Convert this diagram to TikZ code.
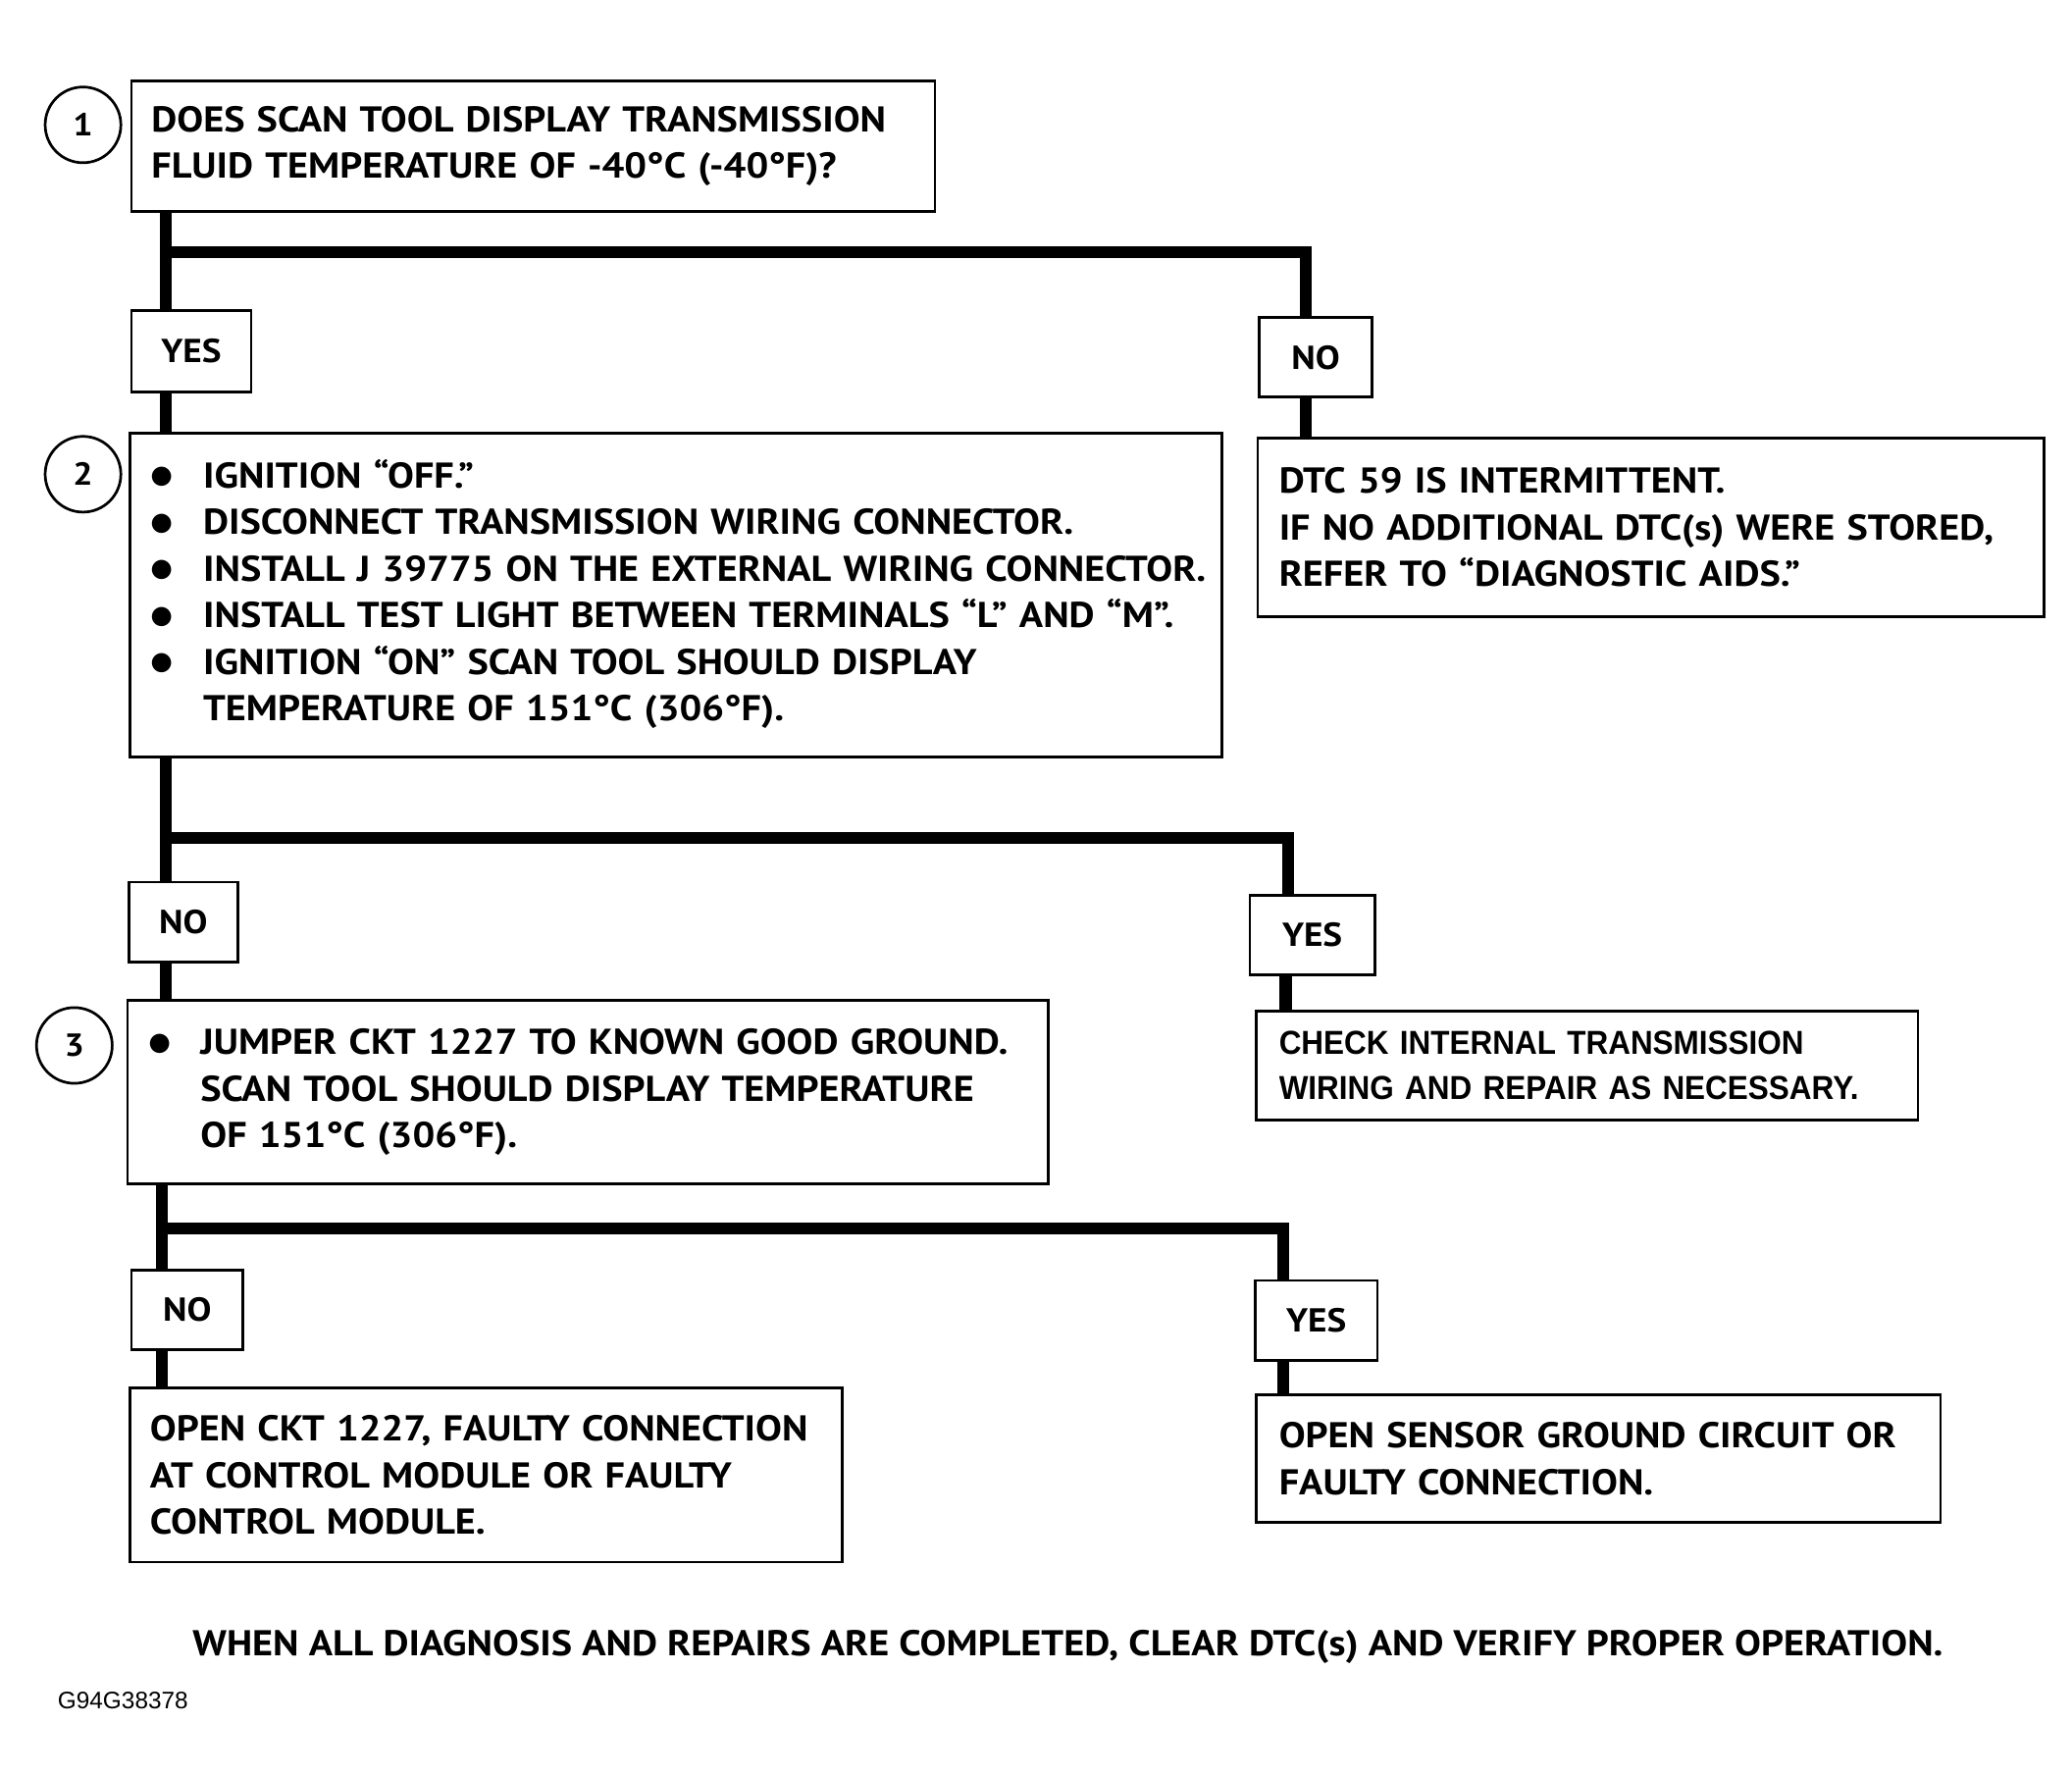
\documentclass[tikz,border=0pt]{standalone}
\usepackage{fontspec}
\setmainfont{PT Sans}[FakeStretch=1.1]
\newfontfamily\helv{Liberation Sans}
\newfontfamily\helvb{Liberation Sans Bold}[FakeStretch=0.93]
\newcommand\itm{\makebox[40pt][l]{\raisebox{-1pt}{\scalebox{1.5}{$\bullet$}}}}

\begin{document}
\begin{tikzpicture}[x=1pt,y=-1pt,
    box/.style={draw,line width=2pt,anchor=north west,inner xsep=15pt,inner ysep=0pt,align=left,
      font=\fontsize{27}{35}\selectfont\bfseries},
    tag/.style={draw,line width=2pt,anchor=north west,inner sep=0pt,
      font=\fontsize{25}{25}\selectfont\bfseries},
    num/.style={draw,circle,line width=2pt,minimum size=57pt,inner sep=0pt,
      font=\fontsize{24}{24}\selectfont\bfseries},
    conn/.style={line width=9pt,line join=miter}]

    \path[fill=white,use as bounding box] (0,0) rectangle (1560,1335.5);

    % step 1
    \node[num] (c1) at (62.5,94) {1};
    \node[box,text width=575pt,minimum height=98pt] (q1) at (98,60)
      {DOES SCAN TOOL DISPLAY TRANSMISSION\\FLUID TEMPERATURE OF -40°C (-40°F)?};
    \node[tag,minimum width=90pt,minimum height=61pt] (yes1) at (98,233) {YES};
    \node[tag,minimum width=85pt,minimum height=60pt] (no1) at (947,238) {NO};
    \node[box,inner xsep=16pt,text width=560pt,minimum height=134pt] (dtc) at (946,329)
      {DTC 59 IS INTERMITTENT.\\IF NO ADDITIONAL DTC(s) WERE STORED,\\REFER TO “DIAGNOSTIC AIDS.”};

    % step 2
    \node[num] (c2) at (62.5,357) {2};
    \node[box,text width=792pt,minimum height=244pt] (s2) at (97,325)
      {\begin{tabular}{@{}l@{}l@{}}
        \itm & IGNITION “OFF.”\\
        \itm & DISCONNECT TRANSMISSION WIRING CONNECTOR.\\
        \itm & INSTALL J 39775 ON THE EXTERNAL WIRING CONNECTOR.\\
        \itm & INSTALL TEST LIGHT BETWEEN TERMINALS “L” AND “M”.\\
        \itm & IGNITION “ON” SCAN TOOL SHOULD DISPLAY\\
             & TEMPERATURE OF 151°C (306°F).
      \end{tabular}};
    \node[tag,minimum width=82pt,minimum height=60pt] (no2) at (96,663) {NO};
    \node[tag,minimum width=94pt,minimum height=60pt] (yes2) at (940,673) {YES};
    \node[box,inner xsep=17pt,text width=464pt,minimum height=82pt,
      font=\fontsize{25}{34}\selectfont\helvb] (chk) at (945,760)
      {CHECK INTERNAL TRANSMISSION\\WIRING AND REPAIR AS NECESSARY.};

    % step 3
    \node[num] (c3) at (56,787) {3};
    \node[box,text width=663pt,minimum height=138pt] (s3) at (95,752)
      {\begin{tabular}{@{}l@{}l@{}}
        \itm & JUMPER CKT 1227 TO KNOWN GOOD GROUND.\\
             & SCAN TOOL SHOULD DISPLAY TEMPERATURE\\
             & OF 151°C (306°F).
      \end{tabular}};
    \node[tag,minimum width=84pt,minimum height=60pt] (no3) at (98,955) {NO};
    \node[tag,minimum width=92pt,minimum height=60pt] (yes3) at (944,963) {YES};
    \node[box,text width=506pt,minimum height=131pt] (opc) at (97,1044)
      {OPEN CKT 1227, FAULTY CONNECTION\\AT CONTROL MODULE OR FAULTY\\CONTROL MODULE.};
    \node[box,inner xsep=17pt,text width=481pt,minimum height=96pt] (ops) at (945,1049)
      {OPEN SENSOR GROUND CIRCUIT OR\\FAULTY CONNECTION.};

    \node[font=\fontsize{27}{27}\selectfont\bfseries] (note) at (804,1240)
      {WHEN ALL DIAGNOSIS AND REPAIRS ARE COMPLETED, CLEAR DTC(s) AND VERIFY PROPER OPERATION.};
    \node[anchor=west,font=\fontsize{18}{18}\selectfont\helv] (code) at (40,1280) {G94G38378};

    % branches
    \coordinate (j1) at (125,190);
    \coordinate (k1) at (983,190);
    \coordinate (j2) at (125,631);
    \coordinate (k2) at (970,631);
    \coordinate (j3) at (122,925);
    \coordinate (k3) at (966,925);

    \draw[conn] (q1.south -| j1) -- (yes1.north -| j1);
    \draw[conn] (j1) -- (k1) -- (no1.north -| k1);
    \draw[conn] (yes1.south -| j1) -- (s2.north -| j1);
    \draw[conn] (no1.south -| k1) -- (dtc.north -| k1);

    \draw[conn] (s2.south -| j2) -- (no2.north -| j2);
    \draw[conn] (j2) -- (k2) -- (yes2.north -| k2);
    \draw[conn] (no2.south -| j2) -- (s3.north -| j2);
    \draw[conn] ([xshift=-2pt]yes2.south -| k2) -- ([xshift=-2pt]chk.north -| k2);

    \draw[conn] (s3.south -| j3) -- (no3.north -| j3);
    \draw[conn] (j3) -- (k3) -- (yes3.north -| k3);
    \draw[conn] (no3.south -| j3) -- (opc.north -| j3);
    \draw[conn] (yes3.south -| k3) -- (ops.north -| k3);
\end{tikzpicture}
\end{document}
